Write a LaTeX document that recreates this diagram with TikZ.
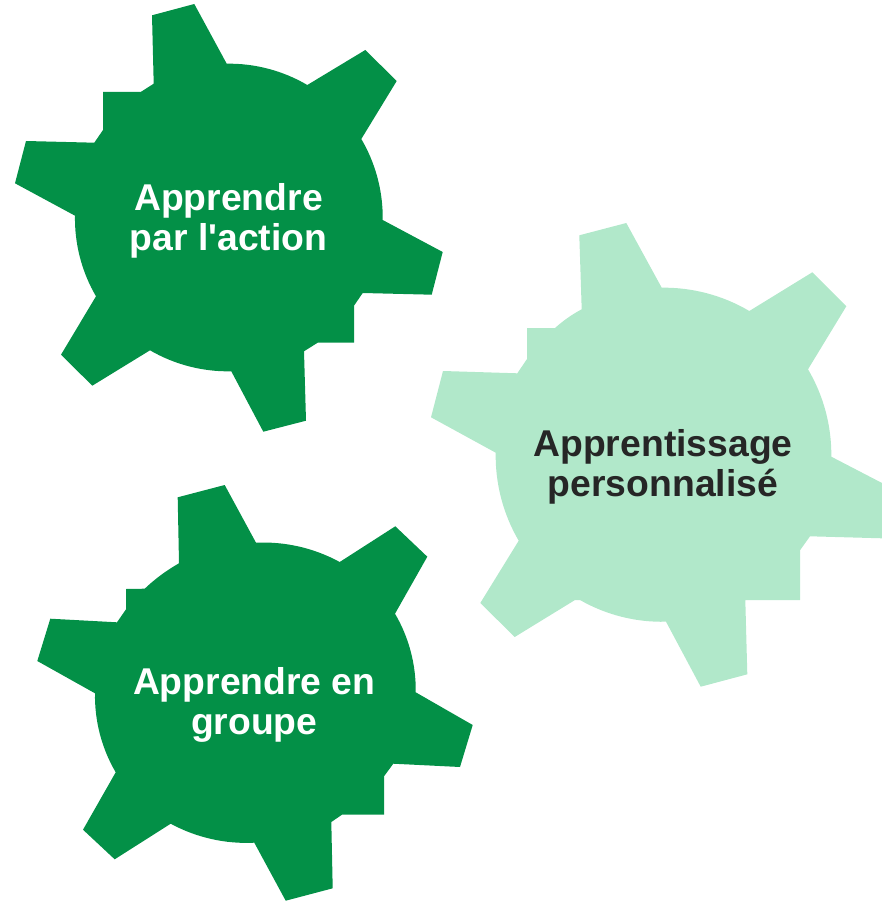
\documentclass[tikz,border=0pt]{standalone}
\usepackage{fontspec}
\newfontfamily\gearfont{Liberation Sans}
\definecolor{gearDark}{HTML}{039047}
\definecolor{gearLight}{HTML}{B1E8CA}
\definecolor{labelDark}{HTML}{262626}
\tikzset{
  geardark/.style={fill=gearDark,draw=none},
  gearlight/.style={fill=gearLight,draw=none},
  rim/.style={bend left=15.7,looseness=.867},
  rimsmall/.style={bend left=7,looseness=.86},
  gearlabel/.style={font=\gearfont\bfseries\fontsize{37.3}{40}\selectfont,align=center,inner sep=0pt,anchor=center}
}
\begin{document}
\begin{tikzpicture}[x=1pt,y=-1pt]
\useasboundingbox (0,0) rectangle (882,901);
\fill[geardark] (152,15.3) -- (194.3,4) -- (226.7,63.7) to[rim] (307.3,85) -- (365.3,50) -- (396.7,81) -- (361.3,139) to[rim] (382.7,220) -- (442.7,252) -- (431.7,294.7) -- (362.7,293) -- (354,305.7) -- (354,342.7) -- (317.7,342.7) -- (304,351.3) -- (306,420.7) -- (263.3,431.7) -- (231.3,371.3) to[rim] (150,350.3) -- (92.3,385.7) -- (61,354.7) -- (96,296.3) to[rim] (75,215.7) -- (15,183.3) -- (26,141) -- (94.3,142.7) -- (103,130) -- (103,92) -- (140.7,92) -- (153.7,83.7) -- cycle;
\fill[gearlight] (579.3,235.3) -- (626.3,223) -- (661.7,287.7) to[rim] (749.3,311) -- (812.3,272.3) -- (846.3,306.3) -- (808,369.3) to[rim] (831.3,456.7) -- (882,483) -- (882,538.3) -- (810,536.3) -- (800,550.3) -- (800,600) -- (745.3,600) -- (747.3,674.3) -- (700.7,686.7) -- (666,621.7) to[rim] (580,600) -- (575,600) -- (514.7,637) -- (480.3,603) -- (518.7,540.7) to[rim] (495.7,452.7) -- (431,417.3) -- (443,371) -- (517.3,373.3) -- (527,359) -- (527,328) -- (555,328) to[rimsmall] (581.7,309.3) -- cycle;
\fill[geardark] (177.7,497.3) -- (224.7,485) -- (256,542.7) to[rim] (339.7,562) -- (395.3,526.3) -- (427.3,556.7) -- (395,613.7) to[rim] (415.7,692.3) -- (472.7,725) -- (460,767) -- (393.3,763.7) -- (384,776.3) -- (384,814.7) -- (342,814.7) -- (331.3,822) -- (332.7,888.3) -- (285.7,900.7) -- (254.3,842.7) to[rim] (170.7,823.7) -- (114.7,859.3) -- (83,829.7) -- (115.7,772.3) to[rim] (95,693.3) -- (37.3,661) -- (50.3,618.7) -- (117,622.3) -- (126,609.3) -- (126,589) -- (144.7,588.7) to[rimsmall] (179,563.3) -- cycle;
\node[gearlabel,text=white] (action) at (228.5,221) {Apprendre\\par l'action};
\node[gearlabel,text=labelDark] (perso) at (663,467) {Apprentissage\\personnalisé};
\node[gearlabel,text=white] (groupe) at (254.3,705) {Apprendre en\\groupe};
\end{tikzpicture}
\end{document}
